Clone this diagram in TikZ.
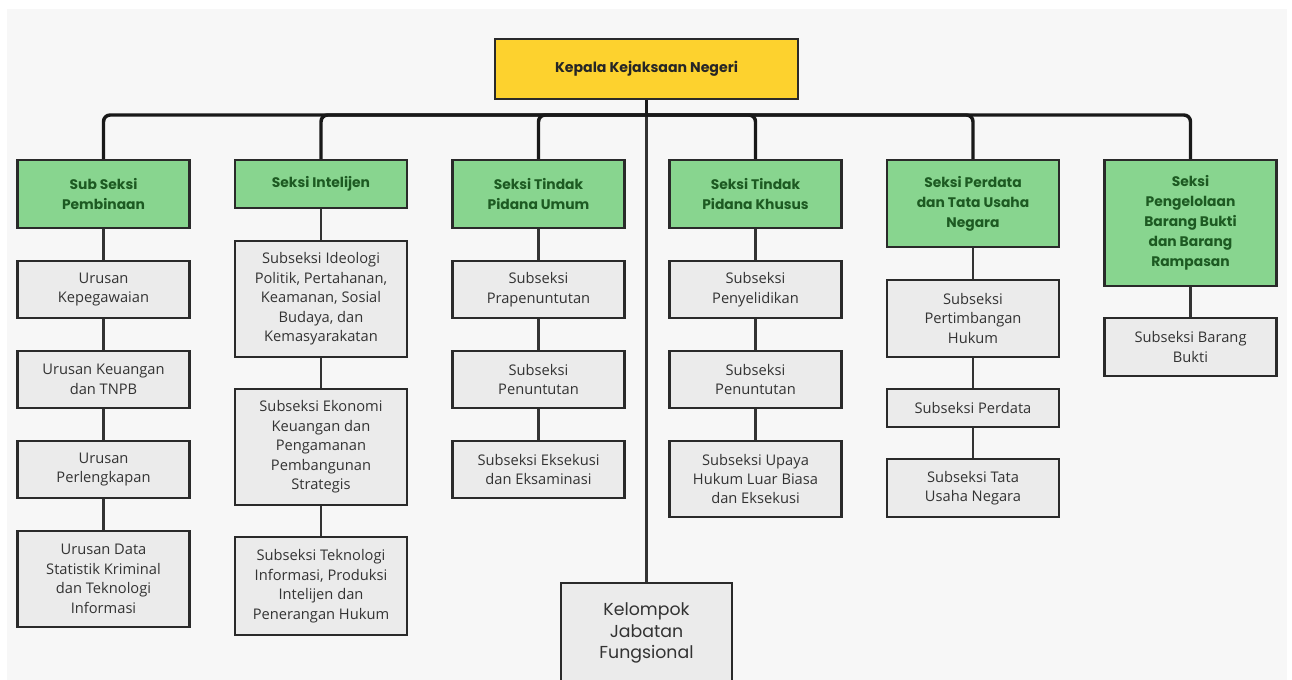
\documentclass[tikz,border=0pt]{standalone}
\usepackage{fontspec}
\setmainfont{Open Sans}
\newfontfamily\headfont{Poppins}
\definecolor{kuning}{HTML}{FDD22E}
\definecolor{hijau}{HTML}{88D58F}
\definecolor{hijautua}{HTML}{1D5A22}
\definecolor{abu}{HTML}{EBEBEB}
\definecolor{teksabu}{HTML}{333333}
\definecolor{garis}{HTML}{2A2A2A}
\definecolor{latar}{HTML}{F7F7F7}
\tikzset{
  kepala/.style={draw=garis, line width=1.8pt, fill=kuning, minimum width=227pt, minimum height=45pt, inner sep=0pt, font=\headfont\bfseries\fontsize{10.6}{14}\selectfont, text=black!85},
  seksi/.style={draw=garis, line width=1.8pt, fill=hijau, minimum width=129pt, inner sep=0pt, align=center, font=\headfont\bfseries\fontsize{10.4}{15}\selectfont, text=hijautua},
  subseksi/.style={draw=garis, line width=1.8pt, fill=abu, minimum width=129pt, inner sep=0pt, align=center, font=\fontsize{11}{14.6}\selectfont, text=teksabu},
  bus/.style={draw=black!90, line width=2.6pt, rounded corners=5pt},
  link/.style={draw=teksabu, line width=2pt}
}
\begin{document}
\begin{tikzpicture}[x=0.75pt, y=-0.75pt]
\useasboundingbox (0,0) rectangle (1292,680);
\fill[white] (0,0) rectangle (1292,680);
\fill[latar] (7,9) rectangle (1287,680);
% pimpinan
\node[kepala] (K) at (646.5, 69) {Kepala Kejaksaan Negeri};
% seksi
\node[seksi, minimum height=51pt] (S1) at (103.5, 194) {Sub Seksi\\Pembinaan};
\node[seksi, minimum height=36pt] (S2) at (321, 184) {Seksi Intelijen};
\node[seksi, minimum height=51pt] (S3) at (538.5, 194) {Seksi Tindak\\Pidana Umum};
\node[seksi, minimum height=51pt] (S4) at (755.5, 194) {Seksi Tindak\\Pidana Khusus};
\node[seksi, minimum height=65.25pt] (S5) at (973, 203.5) {Seksi Perdata\\dan Tata Usaha\\Negara};
\node[seksi, minimum height=94.5pt] (S6) at (1190.5, 223) {Seksi\\Pengelolaan\\Barang Bukti\\dan Barang\\Rampasan};
% pembinaan
\node[subseksi, minimum height=42.75pt] (A1) at (103.5, 289.5) {Urusan\\Kepegawaian};
\node[subseksi, minimum height=42.75pt] (A2) at (103.5, 379.5) {Urusan Keuangan\\dan TNPB};
\node[subseksi, minimum height=42.75pt] (A3) at (103.5, 469.5) {Urusan\\Perlengkapan};
\node[subseksi, minimum height=72pt] (A4) at (103.5, 579) {Urusan Data\\Statistik Kriminal\\dan Teknologi\\Informasi};
% intelijen
\node[subseksi, minimum height=87pt] (B1) at (321, 299) {Subseksi Ideologi\\Politik, Pertahanan,\\Keamanan, Sosial\\Budaya, dan\\Kemasyarakatan};
\node[subseksi, minimum height=87pt] (B2) at (321, 447) {Subseksi Ekonomi\\Keuangan dan\\Pengamanan\\Pembangunan\\Strategis};
\node[subseksi, minimum height=73.5pt] (B3) at (321, 586) {Subseksi Teknologi\\Informasi, Produksi\\Intelijen dan\\Penerangan Hukum};
% pidana umum
\node[subseksi, minimum height=42.75pt] (C1) at (538.5, 289.5) {Subseksi\\Prapenuntutan};
\node[subseksi, minimum height=42.75pt] (C2) at (538.5, 379.5) {Subseksi\\Penuntutan};
\node[subseksi, minimum height=42.75pt] (C3) at (538.5, 469.5) {Subseksi Eksekusi\\dan Eksaminasi};
% pidana khusus
\node[subseksi, minimum height=42.75pt] (D1) at (755.5, 289.5) {Subseksi\\Penyelidikan};
\node[subseksi, minimum height=42.75pt] (D2) at (755.5, 379.5) {Subseksi\\Penuntutan};
\node[subseksi, minimum height=57pt] (D3) at (755.5, 479) {Subseksi Upaya\\Hukum Luar Biasa\\dan Eksekusi};
% perdata dan tun
\node[subseksi, minimum height=57.75pt] (E1) at (973, 318.5) {Subseksi\\Pertimbangan\\Hukum};
\node[subseksi, minimum height=28.5pt] (E2) at (973, 408) {Subseksi Perdata};
\node[subseksi, minimum height=43.5pt] (E3) at (973, 488) {Subseksi Tata\\Usaha Negara};
% barang bukti
\node[subseksi, minimum height=43.5pt] (G1) at (1190.5, 347) {Subseksi Barang\\Bukti};
% fungsional
\node[subseksi, minimum width=128pt, minimum height=75pt, font=\headfont\fontsize{13}{16.2}\selectfont] (F) at (646.5, 633) {Kelompok\\Jabatan\\Fungsional};
% garis komando
\coordinate (bus) at (646.5, 115);
\draw[link, line width=1.6pt] (K.south) -- (F.north);
\draw[bus] (K.south) -- (bus);
\draw[bus] (S1.north) |- (bus) -| (S6.north);
\draw[bus] (S2.north) |- (bus);
\draw[bus] (S3.north) |- (bus);
\draw[bus] (S4.north) |- (bus);
\draw[bus] (S5.north) |- (bus);
% garis seksi ke subseksi
\draw[link] (S1) -- (A1) (A1) -- (A2) (A2) -- (A3) (A3) -- (A4);
\draw[link] (S2) -- (B1) (B1) -- (B2) (B2) -- (B3);
\draw[link] (S3) -- (C1) (C1) -- (C2) (C2) -- (C3);
\draw[link] (S4) -- (D1) (D1) -- (D2) (D2) -- (D3);
\draw[link] (S5) -- (E1) (E1) -- (E2) (E2) -- (E3);
\draw[link] (S6) -- (G1);
\end{tikzpicture}
\end{document}
